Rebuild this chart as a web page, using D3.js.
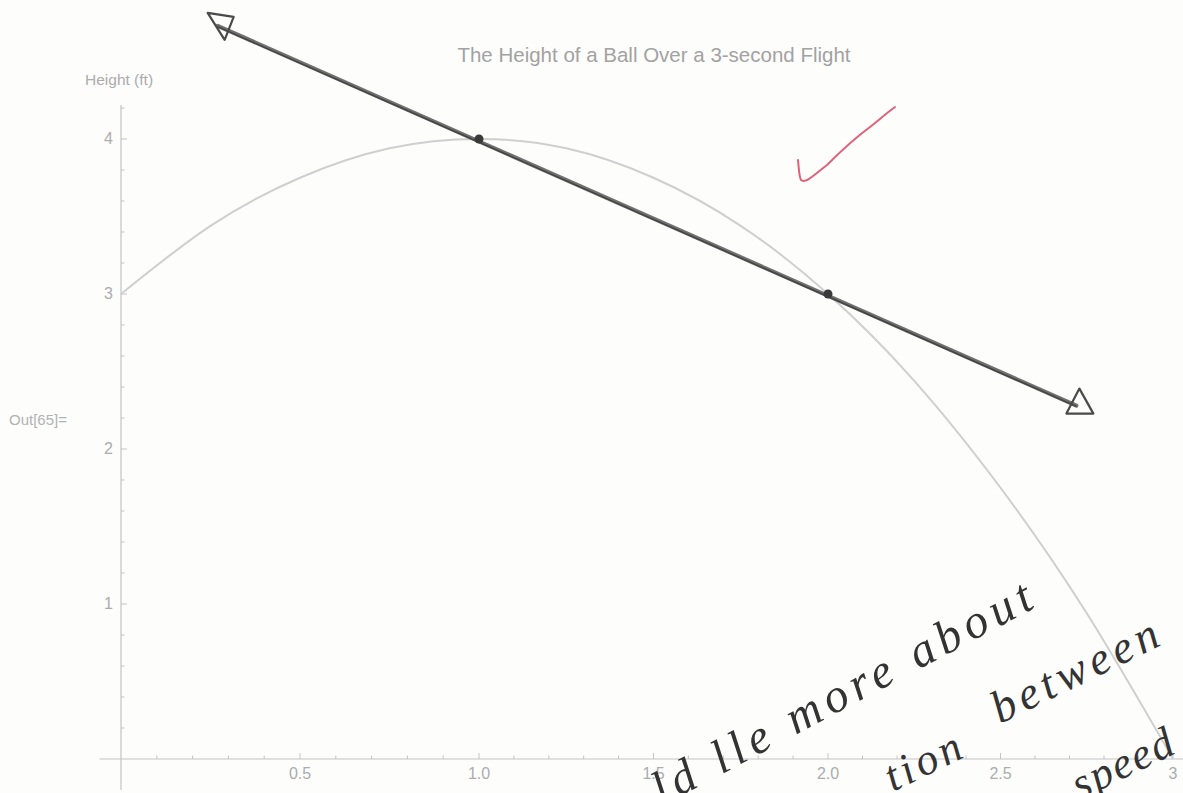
<!DOCTYPE html>
<html>
<head>
<meta charset="utf-8">
<script src="https://cdn.jsdelivr.net/npm/d3@7"></script>
<style>
  body { margin: 0; background: #fdfdfc; }
  svg { display: block; }
</style>
</head>
<body>
<div id="chart"></div>
<script>
// height of the ball
var times   = [0, 0.25, 0.5, 0.75, 1, 1.25, 1.5, 1.75, 2, 2.25, 2.5, 2.75, 3];
var heights = [3, 3.44, 3.75, 3.94, 4, 3.94, 3.75, 3.44, 3, 2.44, 1.75, 0.94, 0];

// hand drawn secant through (1,4) and (2,3)
var secantT = [0.27, 2.72];
var secantH = [4.73, 2.28];
var dotT = [1, 2];
var dotH = [4, 3];

var xTicks = [0.5, 1.0, 1.5, 2.0, 2.5, 3];
var xTickLabels = ["0.5", "1.0", "1.5", "2.0", "2.5", "3"];
var yTicks = [1, 2, 3, 4];

function init() {
  var w = 1183;
  var h = 793;

  // the scan is a little stretched, so x is piecewise
  var x = d3.scaleLinear().domain([0, 1, 2, 3]).range([121, 479, 828, 1173]);
  var y = d3.scaleLinear().domain([0, 4]).range([759, 139]);

  var svg = d3.select("#chart")
      .append("svg")
      .attr("width", w)
      .attr("height", h);

  var axisColor = "#c4c4c4";
  var textColor = "#acacac";
  var font = "Liberation Sans, Arial, sans-serif";

  // x axis line and ticks
  svg.append("line")
    .attr("x1", x(-0.06)).attr("x2", w)
    .attr("y1", y(0)).attr("y2", y(0))
    .attr("stroke", axisColor).attr("stroke-width", 1.2);

  var xMinor = d3.range(1, 31).map(function(i) { return i / 10; });
  svg.selectAll(".xminor")
    .data(xMinor)
    .enter()
    .append("line")
    .attr("x1", function(d) { return x(d); })
    .attr("x2", function(d) { return x(d); })
    .attr("y1", y(0))
    .attr("y2", function(d, i) { return (i + 1) % 5 == 0 ? y(0) - 6 : y(0) - 3.5; })
    .attr("stroke", axisColor);

  svg.selectAll(".xlab")
    .data(xTicks)
    .enter()
    .append("text")
    .attr("x", function(d) { return x(d); })
    .attr("y", y(0) + 20)
    .attr("text-anchor", "middle")
    .style("font-family", font)
    .style("font-size", "16px")
    .style("fill", textColor)
    .text(function(d, i) { return xTickLabels[i]; });

  // y axis line and ticks
  svg.append("line")
    .attr("x1", x(0)).attr("x2", x(0))
    .attr("y1", y(4.22)).attr("y2", y(-0.2))
    .attr("stroke", axisColor).attr("stroke-width", 1.2);

  var yMinor = d3.range(1, 22).map(function(i) { return i / 5; });
  svg.selectAll(".yminor")
    .data(yMinor)
    .enter()
    .append("line")
    .attr("x1", x(0))
    .attr("x2", function(d) { return Math.abs(d - Math.round(d)) < 0.01 ? x(0) + 6 : x(0) + 3.5; })
    .attr("y1", function(d) { return y(d); })
    .attr("y2", function(d) { return y(d); })
    .attr("stroke", axisColor);

  svg.selectAll(".ylab")
    .data(yTicks)
    .enter()
    .append("text")
    .attr("x", x(0) - 8)
    .attr("y", function(d) { return y(d) + 5; })
    .attr("text-anchor", "end")
    .style("font-family", font)
    .style("font-size", "16px")
    .style("fill", textColor)
    .text(function(d) { return d; });

  // labels
  svg.append("text")
    .attr("x", 654).attr("y", 62)
    .attr("text-anchor", "middle")
    .style("font-family", font)
    .style("font-size", "20.5px")
    .style("fill", "#a2a2a2")
    .text("The Height of a Ball Over a 3-second Flight");

  svg.append("text")
    .attr("x", 85).attr("y", 85)
    .style("font-family", font)
    .style("font-size", "15.5px")
    .style("fill", textColor)
    .text("Height (ft)");

  svg.append("text")
    .attr("x", 9).attr("y", 425)
    .style("font-family", font)
    .style("font-size", "15px")
    .style("fill", "#b2b2b2")
    .text("Out[65]=");

  // the curve
  var line = d3.line()
    .x(function(d) { return x(d[0]); })
    .y(function(d) { return y(d[1]); })
    .curve(d3.curveNatural);

  svg.append("path")
    .datum(times.map(function(t, i) { return [t, heights[i]]; }))
    .attr("d", line)
    .attr("fill", "none")
    .attr("stroke", "#cfcfcf")
    .attr("stroke-width", 2);

  // secant line, pencil-like
  var sx1 = x(secantT[0]), sy1 = y(secantH[0]);
  var sx2 = x(secantT[1]), sy2 = y(secantH[1]);
  svg.append("line")
    .attr("x1", sx1).attr("y1", sy1).attr("x2", sx2).attr("y2", sy2)
    .attr("stroke", "#707070").attr("stroke-width", 4).attr("stroke-linecap", "round");
  svg.append("line")
    .attr("x1", sx1).attr("y1", sy1 + 0.8).attr("x2", sx2).attr("y2", sy2 + 0.8)
    .attr("stroke", "#454545").attr("stroke-width", 1.5);

  // open triangle arrowheads
  svg.append("path")
    .attr("d", "M" + (sx1 - 10) + "," + (sy1 - 13) + " L" + (sx1 + 16) + "," + (sy1 - 9) +
               " L" + (sx1 + 7) + "," + (sy1 + 14) + " Z")
    .attr("fill", "none").attr("stroke", "#4a4a4a").attr("stroke-width", 2.2)
    .attr("stroke-linejoin", "round");
  svg.append("path")
    .attr("d", "M" + (sx2 + 3) + "," + (sy2 - 17) + " L" + (sx2 - 10) + "," + (sy2 + 8) +
               " L" + (sx2 + 17) + "," + (sy2 + 8) + " Z")
    .attr("fill", "none").attr("stroke", "#4a4a4a").attr("stroke-width", 2.2)
    .attr("stroke-linejoin", "round");

  svg.selectAll(".dot")
    .data(dotT)
    .enter()
    .append("circle")
    .attr("cx", function(d) { return x(d); })
    .attr("cy", function(d, i) { return y(dotH[i]); })
    .attr("r", 4.5)
    .style("fill", "#3a3a3a");

  // red check mark
  svg.append("path")
    .attr("d", "M798,160 C799,170 799,176 801,180 C806,184 815,174 827,165 C840,152 855,138 870,127 C880,119 888,112 895,107")
    .attr("fill", "none")
    .attr("stroke", "#e0627a")
    .attr("stroke-width", 2)
    .attr("stroke-linecap", "round");

  // handwritten comment
  var hand = svg.append("g")
    .style("font-family", "Liberation Serif, serif")
    .style("font-style", "italic")
    .style("fill", "#333");

  hand.append("text")
    .attr("transform", "translate(662,806) rotate(-28)")
    .attr("letter-spacing", "6px")
    .style("font-size", "48px")
    .text("ld lle more about");

  hand.append("text")
    .attr("transform", "translate(893,792) rotate(-26)")
    .attr("letter-spacing", "4px")
    .style("font-size", "44px")
    .text("tion");

  hand.append("text")
    .attr("transform", "translate(1000,724) rotate(-26)")
    .attr("letter-spacing", "5px")
    .style("font-size", "46px")
    .text("between");

  hand.append("text")
    .attr("transform", "translate(1080,800) rotate(-26)")
    .attr("letter-spacing", "2px")
    .style("font-size", "44px")
    .text("speed");
}

window.onload = init;
</script>
</body>
</html>
